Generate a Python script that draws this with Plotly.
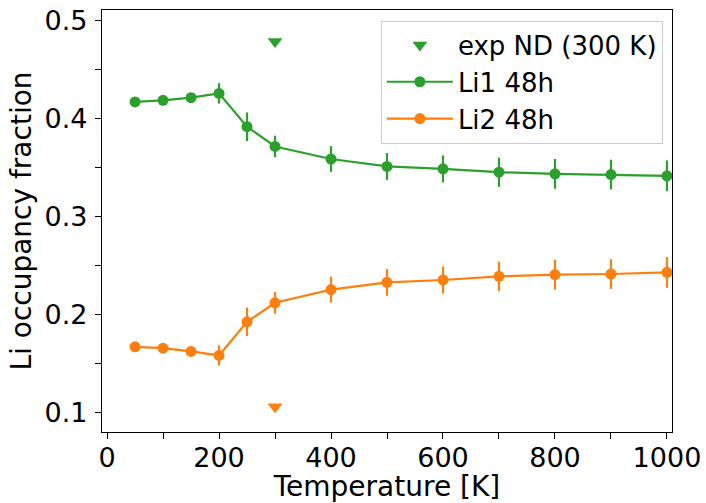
import plotly.graph_objects as go

temps = [50, 100, 150, 200, 250, 300, 400, 500, 600, 700, 800, 900, 1000]
li1 = [0.4169, 0.4185, 0.4212, 0.4256, 0.3916, 0.3714, 0.3586, 0.3510, 0.3485, 0.3451, 0.3434, 0.3427, 0.3414]
li2 = [0.1667, 0.1653, 0.1620, 0.1579, 0.1922, 0.2117, 0.2252, 0.2326, 0.2350, 0.2387, 0.2404, 0.2411, 0.2428]
err = [0.003, 0.003, 0.004, 0.0104, 0.0146, 0.011, 0.0132, 0.0137, 0.0138, 0.0149, 0.0152, 0.0152, 0.0157]

exp_T = [300]
exp_li1 = [0.4785]
exp_li2 = [0.1056]

x_ticks = [0, 100, 200, 300, 400, 500, 600, 700, 800, 900, 1000]
x_labels = ["0", "", "200", "", "400", "", "600", "", "800", "", "1000"]
y_ticks = [0.10, 0.15, 0.20, 0.25, 0.30, 0.35, 0.40, 0.45, 0.50]
y_labels = ["0.1", "", "0.2", "", "0.3", "", "0.4", "", "0.5"]

GREEN = "#2ca02c"
ORANGE = "#ff7f0e"
FONT = "DejaVu Sans"

fig = go.Figure()
fig.add_trace(go.Scatter(
    x=exp_T, y=exp_li1, mode="markers", name="exp ND (300 K)",
    marker=dict(symbol="triangle-down", size=13, color=GREEN),
))
fig.add_trace(go.Scatter(
    x=exp_T, y=exp_li2, mode="markers", showlegend=False,
    marker=dict(symbol="triangle-down", size=13, color=ORANGE),
))
fig.add_trace(go.Scatter(
    x=temps, y=li1, mode="lines+markers", name="Li1 48h",
    line=dict(color=GREEN, width=2.2),
    marker=dict(symbol="circle", size=11, color=GREEN),
    error_y=dict(type="data", array=err, visible=True, color=GREEN, thickness=2.2, width=0),
))
fig.add_trace(go.Scatter(
    x=temps, y=li2, mode="lines+markers", name="Li2 48h",
    line=dict(color=ORANGE, width=2.2),
    marker=dict(symbol="circle", size=11, color=ORANGE),
    error_y=dict(type="data", array=err, visible=True, color=ORANGE, thickness=2.2, width=0),
))

axis_common = dict(
    showgrid=False, zeroline=False, showline=True, linecolor="black", linewidth=1.3,
    mirror=True, ticks="outside", ticklen=6, tickwidth=1.3, tickcolor="black",
    tickfont=dict(family=FONT, size=27, color="black"),
)

fig.update_layout(
    width=706, height=503,
    margin=dict(l=102, r=34, t=5, b=71),
    paper_bgcolor="white", plot_bgcolor="white",
    font=dict(family=FONT, size=27, color="black"),
    xaxis=dict(
        range=[-9, 1009], tickmode="array", tickvals=x_ticks, ticktext=x_labels,
        ticklabelstandoff=-5, automargin=False,
        title=dict(text="Temperature [K]", font=dict(family=FONT, size=28)),
        **axis_common,
    ),
    yaxis=dict(
        range=[0.0797, 0.5108], tickmode="array", tickvals=y_ticks, ticktext=y_labels,
        ticklabelstandoff=2, automargin=True,
        title=dict(text="Li occupancy fraction", font=dict(family=FONT, size=28), standoff=4),
        **axis_common,
    ),
    legend=dict(
        x=0.984, y=0.975, xanchor="right", yanchor="top",
        bgcolor="white", bordercolor="#cccccc", borderwidth=1,
        itemwidth=66,
        font=dict(family=FONT, size=26, color="black"),
    ),
    showlegend=True,
)

fig.write_html("out.html", config={"displayModeBar": False},
               post_script="document.body.style.margin='0';")
